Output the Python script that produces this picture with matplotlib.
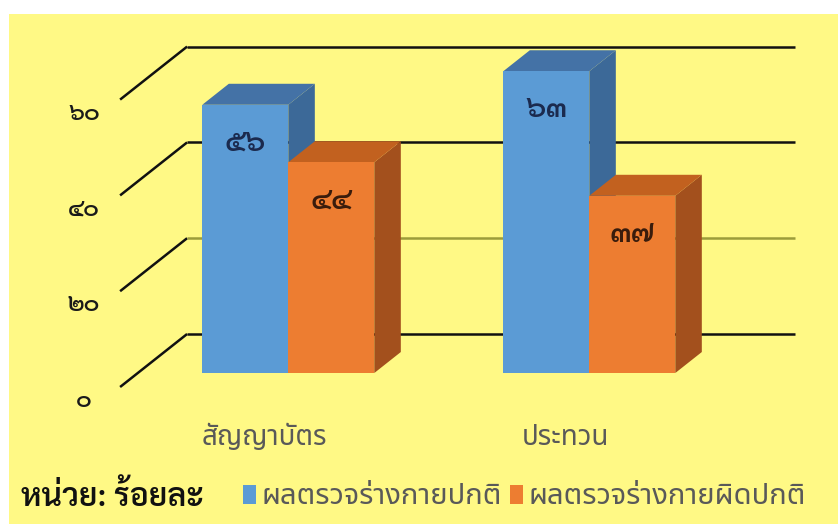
import matplotlib
matplotlib.use("Agg")
import matplotlib.pyplot as plt
from matplotlib.patches import Polygon, Rectangle, Patch

# ---- data -------------------------------------------------------------
categories = ["สัญญาบัตร", "ประทวน"]
series_names = ["ผลตรวจร่างกายปกติ", "ผลตรวจร่างกายผิดปกติ"]
normal = [56, 63]
abnormal = [44, 37]
ticks = [0, 20, 40, 60]
unit_label = "หน่วย: ร้อยละ"

THAI_DIGITS = str.maketrans("0123456789", "๐๑๒๓๔๕๖๗๘๙")


def thai_num(n):
    return str(n).translate(THAI_DIGITS)


tick_labels = [thai_num(t) for t in ticks]

# ---- style ------------------------------------------------------------
BG = "#FFF985"
FRONT = ["#5B9BD5", "#ED7D31"]
TOP = ["#4472A6", "#C2611F"]
SIDE = ["#3C6998", "#A3501D"]
LABEL_COL = ["#1B2A4E", "#3A1C0C"]
LOOPED = ["Sarabun", "DejaVu Sans"]
LOOPLESS = ["Noto Sans Thai", "DejaVu Sans"]

W, H = 838, 524
fig = plt.figure(figsize=(W / 100, H / 100), dpi=100)
fig.patch.set_facecolor("white")
fig.patches.append(Rectangle((9 / W, 0), 1, (H - 14) / H, transform=fig.transFigure,
                             facecolor=BG, edgecolor="none", zorder=-1))

# one x unit = one bar width, one y unit = one percent
PX, PY = 86.0, 4.79
ORIGIN_X, ORIGIN_Y = 270.6, H - 387.0
ax = fig.add_axes([0, 0, 1, 1])
ax.set_zorder(1)
ax.patch.set_visible(False)
ax.set_xlim(-ORIGIN_X / PX, (W - ORIGIN_X) / PX)
ax.set_ylim(-ORIGIN_Y / PY, (H - ORIGIN_Y) / PY)
ax.axis("off")

# oblique depth projection (depth 0 = front edge of floor, 1 = back wall)
DX, DY = 67.0 / PX, 53.0 / PY


def proj(x, v, d):
    return (x + DX * d, v + DY * d)


# ---- walls / gridlines -----------------------------------------------
XL, XR = -1.75, 5.32
for t, lab in zip(ticks, tick_labels):
    p0, p1, p2 = proj(XL, t, 0), proj(XL, t, 1), proj(XR, t, 1)
    ax.plot([p0[0], p1[0]], [p0[1], p1[1]], color="#111111", lw=1.8,
            solid_capstyle="butt", zorder=1)
    ax.plot([p1[0], p2[0]], [p1[1], p2[1]],
            color="#9C9C3A" if t == 20 else "#111111", lw=1.8,
            solid_capstyle="butt", zorder=1)
    ax.annotate(lab, xy=p0, xytext=(-36, -14), textcoords="offset pixels",
                ha="center", va="center", fontsize=17, fontweight="semibold",
                color="#1A1A1A", family=LOOPED, zorder=5)

# ---- 3-D bars ---------------------------------------------------------
group_pos = [0.0, 3.5]
D0, D1 = 0.264, 0.66


def bar3d(x, v, k):
    front = [proj(x, 0, D0), proj(x + 1, 0, D0), proj(x + 1, v, D0), proj(x, v, D0)]
    top = [proj(x, v, D0), proj(x + 1, v, D0), proj(x + 1, v, D1), proj(x, v, D1)]
    side = [proj(x + 1, 0, D0), proj(x + 1, v, D0), proj(x + 1, v, D1), proj(x + 1, 0, D1)]
    for poly, col in ((side, SIDE[k]), (top, TOP[k]), (front, FRONT[k])):
        ax.add_patch(Polygon(poly, closed=True, facecolor=col, edgecolor="none", zorder=3))
    ax.annotate(thai_num(v), xy=proj(x + 0.5, v, D0), xytext=(0, -38),
                textcoords="offset pixels", ha="center", va="center",
                fontsize=22, fontweight="semibold", color=LABEL_COL[k],
                family=LOOPED, zorder=6)


for g, a, b in zip(group_pos, normal, abnormal):
    bar3d(g - 1, a, 0)
    bar3d(g, b, 1)

# ---- category labels --------------------------------------------------
for g, cat in zip(group_pos, categories):
    ax.annotate(cat, xy=proj(g, 0, 0), xytext=(-6, -51), textcoords="offset pixels",
                ha="center", va="center", fontsize=20, color="#595959",
                family=LOOPLESS, zorder=5)

# ---- legend -----------------------------------------------------------
fig.text(21 / W, 1 - 497 / H, unit_label, ha="left", va="center", fontsize=23,
         fontweight="semibold", color="#111111", family=LOOPED)
handles = [Patch(facecolor=FRONT[0], edgecolor="none"),
           Patch(facecolor=FRONT[1], edgecolor="none")]
fig.legend(handles, series_names, loc="center left",
           bbox_to_anchor=(243 / W, 1 - 497 / H), ncol=2, frameon=False,
           handlelength=0.45, handleheight=0.65, handletextpad=0.2,
           columnspacing=0.25, borderaxespad=0, borderpad=0,
           prop={"family": LOOPLESS, "size": 21}, labelcolor="#595959")

fig.savefig("out.png", dpi=100, facecolor=fig.get_facecolor())
